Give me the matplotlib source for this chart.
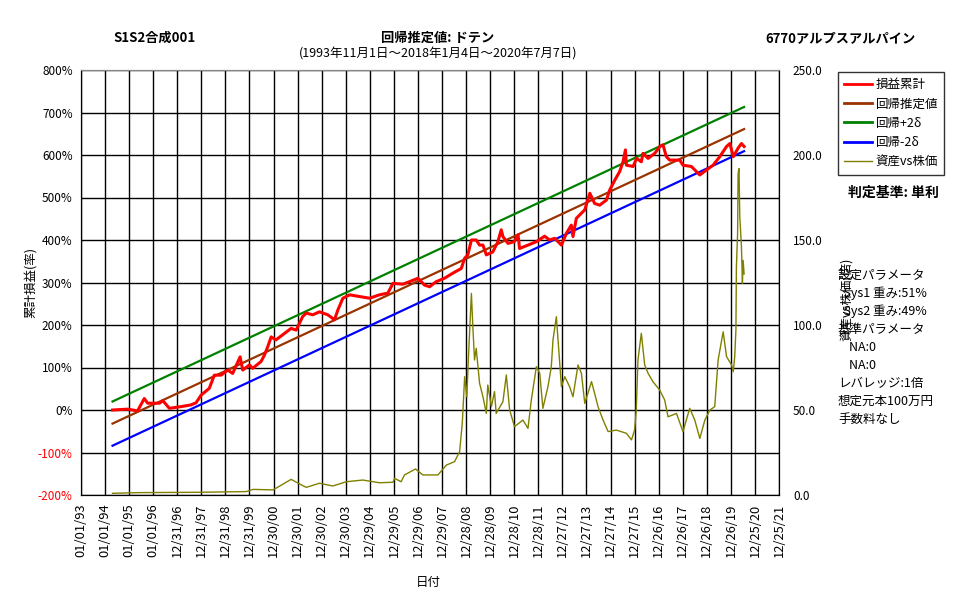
import matplotlib
matplotlib.use("Agg")
import matplotlib.pyplot as plt
from matplotlib.lines import Line2D
import numpy as np

plt.rcParams['font.family'] = ['Noto Sans CJK JP', 'DejaVu Sans']

# x tick labels: one every 365 days from 1993-01-01
TICK_LABELS = [
    "01/01/93", "01/01/94", "01/01/95", "01/01/96", "12/31/96", "12/31/97",
    "12/31/98", "12/31/99", "12/30/00", "12/30/01", "12/30/02", "12/30/03",
    "12/29/04", "12/29/05", "12/29/06", "12/29/07", "12/28/08", "12/28/09",
    "12/28/10", "12/28/11", "12/27/12", "12/27/13", "12/27/14", "12/27/15",
    "12/26/16", "12/26/17", "12/26/18", "12/26/19", "12/25/20", "12/25/21",
]

# cumulative P&L (%), x in years (1993 + n*365 days)
PL_YEAR = [
    1994.31, 1994.94, 1995.35, 1995.63, 1995.77, 1996.26, 1996.40, 1996.67,
    1997.16, 1997.57, 1997.78, 1997.99, 1998.33, 1998.54, 1998.82, 1999.10,
    1999.30, 1999.61, 1999.72, 2000.00, 2000.13, 2000.48, 2000.62, 2000.76,
    2000.90, 2001.10, 2001.45, 2001.73, 2001.94, 2002.21, 2002.36, 2002.63,
    2002.91, 2003.25, 2003.40, 2003.53, 2003.67, 2003.88, 2004.16, 2004.57,
    2004.99, 2005.40, 2005.75, 2005.96, 2006.37, 2006.65, 2007.00, 2007.27,
    2007.48, 2007.76, 2008.10, 2008.45, 2008.80, 2008.94, 2009.07, 2009.22,
    2009.42, 2009.56, 2009.70, 2009.84, 2010.11, 2010.32, 2010.46, 2010.53,
    2010.74, 2011.00, 2011.16, 2011.22, 2011.57, 2011.92, 2012.26, 2012.47,
    2012.68, 2012.96, 2013.17, 2013.37, 2013.44, 2013.58, 2013.93, 2014.14,
    2014.34, 2014.55, 2014.83, 2014.97, 2015.18, 2015.38, 2015.52, 2015.62,
    2015.66, 2015.94, 2016.08, 2016.28, 2016.35, 2016.56, 2016.84, 2017.05,
    2017.18, 2017.32, 2017.46, 2017.88, 2018.01, 2018.36, 2018.50, 2018.71,
    2018.99, 2019.26, 2019.54, 2019.82, 2019.96, 2020.10, 2020.30, 2020.44,
    2020.55,
]
PL_PCT = [
    0, 2, -2, 27, 16, 16, 22, 4,
    8, 12, 17, 35, 51, 82, 82, 94,
    86, 125, 94, 106, 98, 114, 129, 149,
    172, 165, 180, 192, 188, 220, 228, 224,
    231, 224, 218, 212, 235, 263, 271, 267,
    263, 271, 275, 298, 296, 302, 310, 294,
    290, 302, 310, 322, 333, 357, 365, 400,
    400, 388, 388, 365, 372, 396, 424, 408,
    392, 396, 412, 380, 388, 396, 409, 400,
    404, 388, 416, 435, 408, 451, 471, 510,
    486, 482, 494, 518, 541, 561, 584, 612,
    576, 573, 592, 584, 604, 592, 604, 620,
    624, 596, 588, 588, 576, 573, 565, 553,
    565, 576, 596, 620, 627, 596, 616, 627,
    620,
]

# regression line endpoints (%) and 2-sigma band width
REG_YEAR = [1994.31, 2020.55]
REG_PCT = [-32, 661]
BAND_2SIG = 52

# asset vs stock price (right axis)
PX_YEAR = [
    1994.31, 1995.43, 1997.93, 1999.87, 2000.15, 2000.98, 2001.26, 2001.73,
    2002.08, 2002.36, 2002.91, 2003.46, 2004.02, 2004.71, 2005.40, 2005.96,
    2006.03, 2006.30, 2006.44, 2006.90, 2007.20, 2007.83, 2008.18, 2008.52,
    2008.73, 2008.84, 2008.94, 2009.03, 2009.08, 2009.22, 2009.28, 2009.35,
    2009.42, 2009.56, 2009.70, 2009.84, 2009.90, 2010.05, 2010.18, 2010.25,
    2010.53, 2010.67, 2010.81, 2011.01, 2011.36, 2011.57, 2011.71, 2011.92,
    2012.06, 2012.19, 2012.40, 2012.54, 2012.61, 2012.75, 2012.89, 2012.96,
    2013.10, 2013.30, 2013.44, 2013.65, 2013.79, 2013.93, 2014.21, 2014.34,
    2014.48, 2014.69, 2014.90, 2015.24, 2015.66, 2015.87, 2016.00, 2016.07,
    2016.14, 2016.28, 2016.42, 2016.56, 2016.76, 2017.04, 2017.25, 2017.39,
    2017.74, 2018.01, 2018.29, 2018.50, 2018.71, 2018.92, 2019.13, 2019.33,
    2019.47, 2019.68, 2019.82, 2020.03, 2020.10, 2020.16, 2020.21, 2020.23,
    2020.28, 2020.30, 2020.34, 2020.37, 2020.44, 2020.48, 2020.51, 2020.55,
]
PX_VAL = [
    1.0, 1.4, 1.6, 2.0, 3.3, 3.0, 5.3, 9.2,
    6.5, 4.5, 6.9, 5.3, 7.8, 8.8, 7.2, 7.5,
    9.8, 7.8, 11.8, 15.3, 11.8, 11.8, 17.6, 19.6,
    25.5, 42, 69.6, 57.8, 75.5, 118.6, 99, 79.4,
    86.3, 65.7, 57.8, 48, 64.7, 52, 60.8, 48,
    54.9, 70.6, 50, 40.2, 44.1, 39.2, 55.9, 75.5,
    71.6, 51, 63.7, 75.5, 91.2, 104.9, 77.5, 63.7,
    69.6, 63.7, 57.8, 76.5, 71.6, 53.9, 66.7, 59.8,
    52, 44.1, 37.3, 38.2, 36.3, 32.4, 38.2, 50,
    79.4, 95.1, 76.5, 71.6, 66.7, 61.8, 55.9, 46,
    48, 37.3, 51, 44.1, 33.3, 44.1, 50, 52,
    79.4, 96, 81.4, 76.5, 72.5, 81.4, 97, 134,
    154, 189, 192, 164, 146, 124.5, 138, 130,
]

LEGEND_LABELS = ["損益累計", "回帰推定値", "回帰+2δ", "回帰-2δ", "資産vs株価"]
INFO_LINES = [
    "設定パラメータ", "  Sys1 重み:51%", "  Sys2 重み:49%", "基準パラメータ",
    "    NA:0", "    NA:0", "レバレッジ:1倍", "想定元本100万円", "手数料なし",
]

RED, BROWN, GREEN, BLUE, OLIVE = "#FF0000", "#993300", "#008000", "#0000FF", "#808000"


def to_days(years):
    return (np.asarray(years, dtype=float) - 1993.0) * 365.0


W, H = 977, 600
fig = plt.figure(figsize=(W / 100, H / 100), dpi=100)
ax = fig.add_axes([81 / W, 105 / H, 698 / W, 425 / H])
ax2 = ax.twinx()

reg_x = to_days(REG_YEAR)
reg_y = np.asarray(REG_PCT, dtype=float)
ax.plot(reg_x, reg_y + BAND_2SIG, color=GREEN, lw=1.6, zorder=3)
ax.plot(reg_x, reg_y, color=BROWN, lw=1.6, zorder=3)
ax.plot(reg_x, reg_y - BAND_2SIG, color=BLUE, lw=1.6, zorder=3)
ax.plot(to_days(PL_YEAR), PL_PCT, color=RED, lw=2.2, zorder=4)

ax2.plot(to_days(PX_YEAR), PX_VAL, color=OLIVE, lw=1.0)

ax.set_xlim(0, 365 * (len(TICK_LABELS) - 1))
ax.set_ylim(-200, 800)
ax2.set_ylim(0, 250)

ax.set_xticks(np.arange(len(TICK_LABELS)) * 365)
ax.set_xticklabels(TICK_LABELS, rotation=90, fontsize=9.3)
yt = np.arange(-200, 801, 100)
ax.set_yticks(yt)
ax.set_yticklabels([f"{v}%" for v in yt], fontsize=8.5)
for lab, v in zip(ax.get_yticklabels(), yt):
    if v < 0:
        lab.set_color(RED)
pt = np.arange(0, 251, 50)
ax2.set_yticks(pt)
ax2.set_yticklabels([f"{v:.1f}" for v in pt], fontsize=8.5)

ax.grid(True, color="black", lw=1.0, zorder=0)
ax.tick_params(length=0, pad=6)
ax2.tick_params(length=0, pad=10)
for a in (ax, ax2):
    for s in a.spines.values():
        s.set_color("black")
    a.spines["top"].set_color("#888888")

ax.set_xlabel("日付", fontsize=9)
ax.xaxis.set_label_coords(0.497, -0.19)
ax.set_ylabel("累計損益(率)", fontsize=9)
ax.yaxis.set_label_coords(-0.062, 0.5)
ax2.set_ylabel("資産vs株価(倍)", fontsize=9)
ax2.yaxis.set_label_coords(1.088, 0.46)

fig.text(155 / W, 1 - 38 / H, "S1S2合成001", ha="center", va="center",
         fontsize=9.5, fontweight="bold")
fig.text(438 / W, 1 - 38 / H, "回帰推定値: ドテン", ha="center", va="center",
         fontsize=9.5, fontweight="bold")
fig.text(438 / W, 1 - 54 / H, "(1993年11月1日～2018年1月4日～2020年7月7日)",
         ha="center", va="center", fontsize=9)
fig.text(840 / W, 1 - 38 / H, "6770アルプスアルパイン", ha="center", va="center",
         fontsize=9.5, fontweight="bold")

handles = [
    Line2D([0], [0], color=RED, lw=2),
    Line2D([0], [0], color=BROWN, lw=2),
    Line2D([0], [0], color=GREEN, lw=2),
    Line2D([0], [0], color=BLUE, lw=2),
    Line2D([0], [0], color=OLIVE, lw=1),
]
leg = fig.legend(handles, LEGEND_LABELS, loc="upper left",
                 bbox_to_anchor=(838 / W, 1 - 72 / H), fontsize=9,
                 frameon=True, fancybox=False, edgecolor="black",
                 handlelength=2.2, handletextpad=0.3, labelspacing=0.5,
                 borderpad=0.5, borderaxespad=0)
leg.get_frame().set_linewidth(1.0)

fig.text(893 / W, 1 - 193 / H, "判定基準: 単利", ha="center", va="center",
         fontsize=10, fontweight="bold")

for i, line in enumerate(INFO_LINES):
    fig.text(838 / W, 1 - (275 + i * 18.1) / H, line, ha="left", va="center",
             fontsize=9)

fig.savefig("out.png", dpi=100, facecolor="white")
